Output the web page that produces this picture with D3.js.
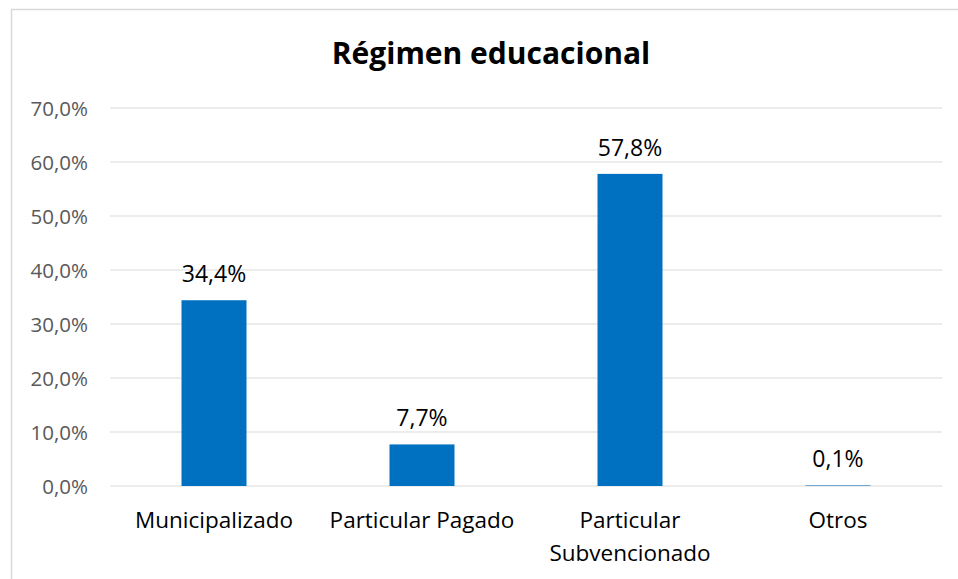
<!DOCTYPE html>
<html>
<head>
<meta charset="utf-8">
<script src="https://cdn.jsdelivr.net/npm/d3@7"></script>
<style>
  body { margin: 0; background: #fff; }
  svg text { font-family: "Open Sans", sans-serif; }
</style>
</head>
<body>
<svg id="chart"></svg>
<script>
var categories = [["Municipalizado"], ["Particular Pagado"], ["Particular", "Subvencionado"], ["Otros"]];
var values = [34.4, 7.7, 57.8, 0.1];
var yTicks = [0, 10, 20, 30, 40, 50, 60, 70];
var title = "Régimen educacional";

var width = 958, height = 579;
var margin = {top: 108, right: 16, bottom: 93, left: 110};

var svg = d3.select("#chart")
    .attr("width", width)
    .attr("height", height);

// marco
svg.append("rect")
    .attr("x", 11.5).attr("y", 9.5)
    .attr("width", 960).attr("height", 600)
    .attr("fill", "none")
    .attr("stroke", "#d9d9d9")
    .attr("stroke-width", 1.5);

var x = d3.scaleBand()
    .domain(d3.range(categories.length))
    .range([margin.left, width - margin.right])
    .paddingInner(0.6875)
    .paddingOuter(0.34375);

var y = d3.scaleLinear()
    .domain([0, 70])
    .range([height - margin.bottom, margin.top]);

// lineas de grilla
svg.append("g")
    .selectAll("line")
    .data(yTicks)
    .enter()
    .append("line")
    .attr("x1", margin.left)
    .attr("x2", width - margin.right)
    .attr("y1", function(d) { return y(d); })
    .attr("y2", function(d) { return y(d); })
    .attr("stroke", "#d9d9d9")
    .attr("stroke-width", 1.2);

var fmt = function(v) { return v.toFixed(1).replace(".", ",") + "%"; };

var yAxis = svg.append("g")
    .attr("transform", "translate(" + (margin.left - 22) + ",0)")
    .call(d3.axisLeft(y).tickValues(yTicks).tickSize(0).tickPadding(0).tickFormat(fmt));
yAxis.select(".domain").remove();
yAxis.selectAll("text")
    .attr("fill", "#595959")
    .attr("dy", "0.36em")
    .style("font-size", "20.5px");

// barras
svg.append("g")
    .selectAll("rect")
    .data(values)
    .enter()
    .append("rect")
    .attr("x", function(d, i) { return x(i); })
    .attr("y", function(d) { return y(d); })
    .attr("width", x.bandwidth())
    .attr("height", function(d) { return y(0) - y(d); })
    .attr("fill", "#0070c0");

// etiquetas de datos
svg.append("g")
    .selectAll("text")
    .data(values)
    .enter()
    .append("text")
    .attr("x", function(d, i) { return x(i) + x.bandwidth() / 2; })
    .attr("y", function(d) { return y(d) - 18; })
    .attr("text-anchor", "middle")
    .style("font-size", "23px")
    .attr("fill", "#000")
    .text(fmt);

// categorias
var cat = svg.append("g")
    .selectAll("text")
    .data(categories)
    .enter()
    .append("text")
    .attr("text-anchor", "middle")
    .style("font-size", "22.5px")
    .attr("fill", "#000");
cat.each(function(lines, i) {
    d3.select(this).selectAll("tspan")
        .data(lines)
        .enter()
        .append("tspan")
        .attr("x", x(i) + x.bandwidth() / 2)
        .attr("y", function(d, j) { return y(0) + 42 + j * 33; })
        .text(function(d) { return d; });
});

svg.append("text")
    .attr("x", 491)
    .attr("y", 64)
    .attr("text-anchor", "middle")
    .style("font-size", "30px")
    .style("font-weight", "bold")
    .attr("fill", "#000")
    .text(title);
</script>
</body>
</html>
